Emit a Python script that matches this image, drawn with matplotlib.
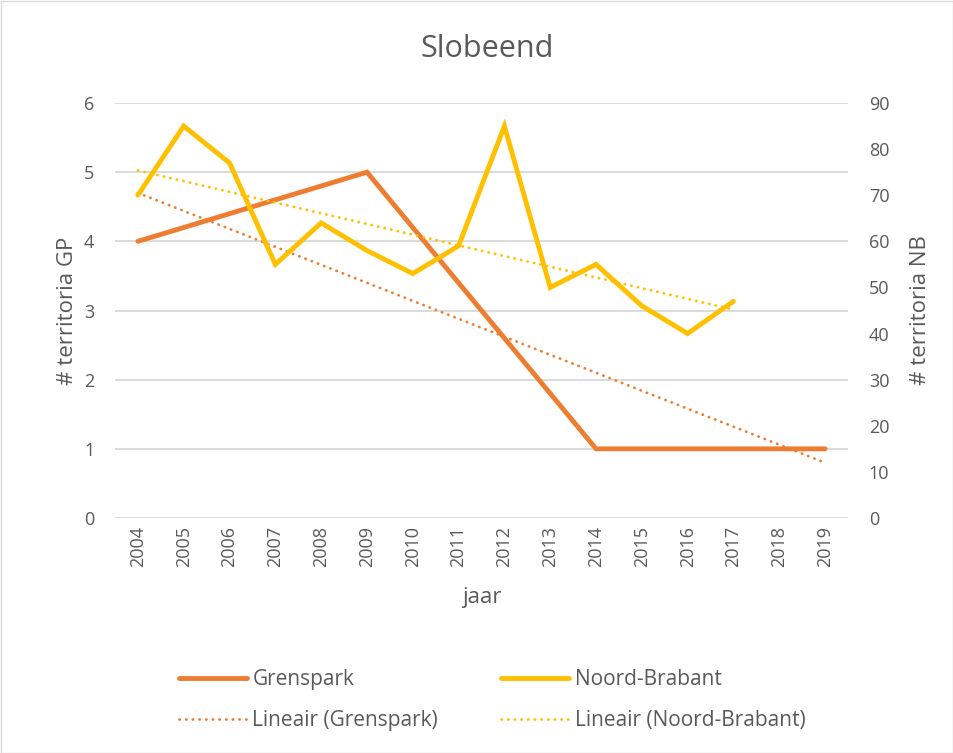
import numpy as np
import matplotlib
matplotlib.use("Agg")
import matplotlib.pyplot as plt
from matplotlib.patches import Rectangle

plt.rcParams['font.family'] = ['Open Sans', 'DejaVu Sans']

years = list(range(2004, 2020))
grenspark = [4, None, None, None, None, 5, None, None, None, None, 1, None, None, None, None, 1]
noord_brabant = [70, 85, 77, 55, 64, 58, 53, 59, 85, 50, 55, 46, 40, 47, None, None]

title = "Slobeend"
xlabel = "jaar"
ylabel_left = "# territoria GP"
ylabel_right = "# territoria NB"

c_gp = "#ED7D31"
c_nb = "#FFC000"
txt = "#595959"
grid = "#D9D9D9"

fig = plt.figure(figsize=(9.54, 7.53), dpi=100)
W, H = 954, 753
ax = fig.add_axes([115 / W, 1 - 518 / H, (848 - 115) / W, (518 - 103) / H])
ax2 = ax.twinx()

x = np.arange(len(years))
gp = np.array([np.nan if v is None else v for v in grenspark], float)
nb = np.array([np.nan if v is None else v for v in noord_brabant], float)
mg = ~np.isnan(gp)
mn = ~np.isnan(nb)

ax.set_xlim(-0.5, len(years) - 0.5)
ax.set_ylim(0, 6)
ax2.set_ylim(0, 90)
ax.set_yticks(range(0, 7))
ax2.set_yticks(range(0, 91, 10))
ax.set_xticks(x)
ax.set_xticklabels([str(y) for y in years], rotation=90)

for yv in range(0, 7):
    ax.axhline(yv, color=grid, lw=1.3, zorder=0)

# trend lines
pg = np.polyfit(x[mg], gp[mg], 1)
xg = np.array([x[mg][0], x[mg][-1]])
pn = np.polyfit(x[mn], nb[mn], 1)
xn = np.array([x[mn][0], x[mn][-1]])

l1, = ax.plot(x[mg], gp[mg], color=c_gp, lw=3.5, solid_capstyle='round', solid_joinstyle='miter', zorder=3)
l3, = ax.plot(xg, np.polyval(pg, xg), color=c_gp, lw=2.0, linestyle=(0, (0.1, 2.3)), dash_capstyle='round', zorder=3)
l2, = ax2.plot(x[mn], nb[mn], color=c_nb, lw=3.5, solid_capstyle='round', solid_joinstyle='miter', zorder=3)
l4, = ax2.plot(xn, np.polyval(pn, xn), color=c_nb, lw=2.0, linestyle=(0, (0.1, 2.3)), dash_capstyle='round', zorder=3)

for a in (ax, ax2):
    for s in a.spines.values():
        s.set_visible(False)
    a.tick_params(length=0, labelsize=13, colors=txt)
ax.tick_params(axis='y', pad=15)
ax2.tick_params(axis='y', pad=15)
ax.tick_params(axis='x', pad=6)

ax.set_xlabel(xlabel, fontsize=16, color=txt, labelpad=14)
ax.set_ylabel(ylabel_left, fontsize=16, color=txt, labelpad=4)
ax2.set_ylabel(ylabel_right, fontsize=16, color=txt, labelpad=15)
fig.text(487 / W, 1 - 49 / H, title, ha='center', va='center', fontsize=22, color=txt)

leg = fig.legend([l1, l3, l2, l4],
                 ["Grenspark", "Lineair (Grenspark)", "Noord-Brabant", "Lineair (Noord-Brabant)"],
                 ncol=2, loc='center', bbox_to_anchor=(492 / W, 1 - 700 / H),
                 frameon=False, fontsize=15, labelcolor=txt, handlelength=3.3,
                 columnspacing=3.0, handletextpad=0.25, labelspacing=0.95)

fig.patches.append(Rectangle((0.5 / W, 0.5 / H), 1 - 1.5 / W, 1 - 1.5 / H, transform=fig.transFigure,
                             fill=False, edgecolor="#D9D9D9", lw=1))

fig.savefig("out.png", dpi=100)
